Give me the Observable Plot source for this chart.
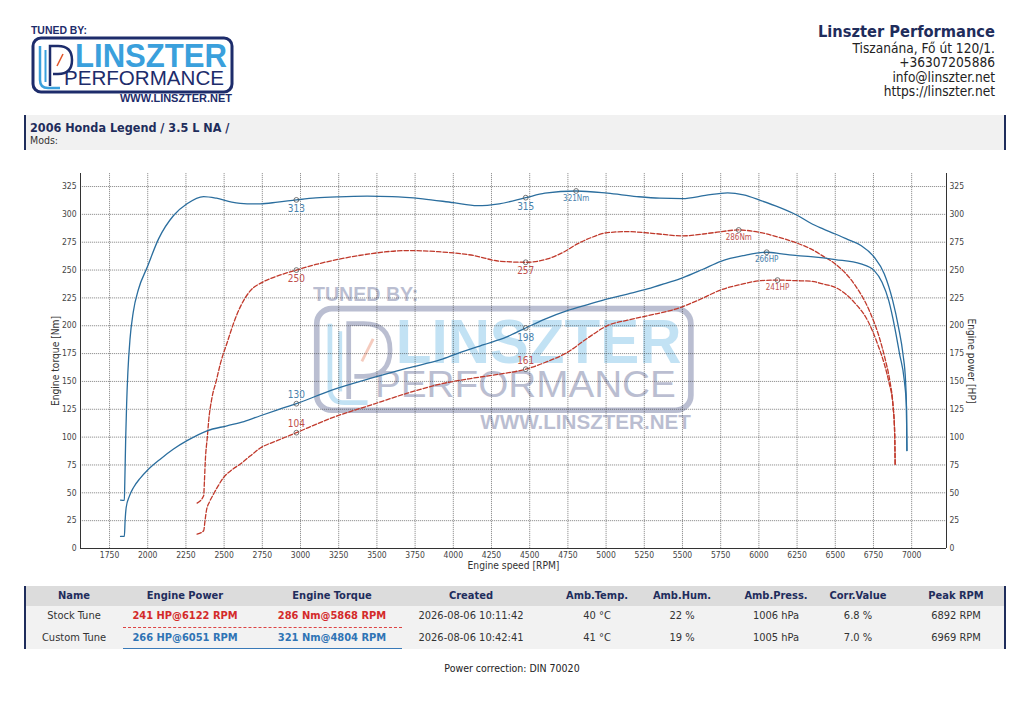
<!DOCTYPE html>
<html><head><meta charset="utf-8">
<script src="https://cdn.jsdelivr.net/npm/d3@7"></script>
<script src="https://cdn.jsdelivr.net/npm/@observablehq/plot@0.6"></script>
<style>
body{margin:0;background:#fff;}
#page{position:relative;width:1024px;height:716px;overflow:hidden;background:#fff;font-family:"DejaVu Sans Condensed","DejaVu Sans",sans-serif;font-stretch:condensed;color:#222;}
#deco{position:absolute;left:0;top:0;z-index:1;}
#chart{position:absolute;left:0;top:160px;z-index:2;}
.a{position:absolute;white-space:nowrap;}
.c{position:absolute;white-space:nowrap;width:200px;text-align:center;font-size:11px;line-height:14px;}
.h{font-weight:bold;color:#1f2d5c;}
</style></head>
<body><div id="page">
<svg id="deco" width="1024" height="716" xmlns="http://www.w3.org/2000/svg">
  <defs>
    <g id="logo">
      <text x="31" y="34" font-family="Liberation Sans" font-weight="bold" font-size="10.5" fill="#1d2c6b" textLength="56" lengthAdjust="spacingAndGlyphs">TUNED BY:</text>
      <rect x="33" y="38" width="199" height="54" rx="8" fill="none" stroke="#1d2c6b" stroke-width="3"/>
      <path d="M40,46 V80 Q40,88 48,88 H60" fill="none" stroke="#3aa0dc" stroke-width="2.5"/>
      <path d="M50,86 V46 H58 Q72,46 72,60 Q72,74 58,74 H53" fill="none" stroke="#1d2c6b" stroke-width="2.5"/>
      <path d="M45.5,82 V50" fill="none" stroke="#3aa0dc" stroke-width="2"/>
      <line x1="57" y1="66" x2="63" y2="54" stroke="#e0562a" stroke-width="1.5"/>
      <text x="75" y="67" font-family="Liberation Sans" font-weight="bold" font-size="33" fill="#3aa0dc" textLength="152" lengthAdjust="spacingAndGlyphs">LINSZTER</text>
      <text x="64" y="85" font-family="Liberation Sans" font-size="20" fill="#1d2c6b" textLength="160" lengthAdjust="spacingAndGlyphs">PERFORMANCE</text>
      <text x="120" y="102" font-family="Liberation Sans" font-weight="bold" font-size="10.5" fill="#1d2c6b" textLength="112" lengthAdjust="spacingAndGlyphs">WWW.LINSZTER.NET</text>
    </g>
  </defs>
  <use href="#logo"/>
  <g opacity="0.3" transform="translate(313,288) scale(1.88) translate(-31,-27)">
    <use href="#logo"/>
  </g>
</svg>

<div class="a" style="right:29px;top:22px;font-size:16.3px;line-height:19px;font-weight:bold;color:#1f2d5c;">Linszter Performance</div>
<div class="a" style="right:29px;top:40.5px;font-size:13.6px;line-height:14.5px;text-align:right;color:#222;">Tiszanána, Fő út 120/1.<br>+36307205886<br>info@linszter.net<br>https://linszter.net</div>

<div class="a" style="left:24px;top:115px;width:978px;height:35px;background:#f1f1f1;border-left:2px solid #1f2d5c;border-right:2px solid #1f2d5c;"></div>
<div class="a" style="left:30px;top:119.5px;font-size:12.5px;line-height:15px;font-weight:bold;color:#1f2d5c;">2006 Honda Legend / 3.5 L NA /</div>
<div class="a" style="left:30px;top:134px;font-size:10.5px;line-height:12px;color:#333;">Mods:</div>

<div id="chart"></div>

<div id="table"></div>
<div class="a" style="left:312px;width:400px;text-align:center;top:661px;font-size:10.5px;line-height:14px;color:#222;">Power correction: DIN 70020</div>
</div>
<script>
// ---- data ----
const xTicks = [1750,2000,2250,2500,2750,3000,3250,3500,3750,4000,4250,4500,4750,5000,5250,5500,5750,6000,6250,6500,6750,7000];
const yTicks = [0,25,50,75,100,125,150,175,200,225,250,275,300,325];

const customTorque = [[1822,43.5],[1847,43.2],[1850,60],[1856,100],[1862,130],[1870,158],[1884,188],[1905,212],[1940,233],[1995,252],[2071,278],[2169,299],[2257,309.5],[2366,316],[2450,314.5],[2550,311],[2650,309.5],[2737,309.5],[2850,311],[2973,313],[3100,314.8],[3250,315.8],[3436,316.3],[3600,316],[3800,314],[4000,310.5],[4157,307.8],[4300,309.5],[4474,315],[4600,319],[4804,321],[5009,319],[5200,316],[5350,314.5],[5500,314.2],[5650,317],[5795,319.3],[5900,317.5],[6013,312.4],[6130,306.5],[6253,299],[6340,292],[6420,287],[6500,282.4],[6580,277.5],[6668,272],[6755,261.5],[6821,246.5],[6876,222.5],[6914,198.6],[6943,174.6],[6960,150.6],[6966,126.7],[6969,88]];
const customPower = [[1822,10.8],[1847,10.8],[1852,25],[1859,36.8],[1880,47],[1907,54.8],[1950,63],[1995,69.8],[2080,80],[2169,89.3],[2257,96.8],[2388,105.7],[2519,110.2],[2630,114],[2737,119.2],[2850,124.5],[2973,130],[3200,142],[3480,153.6],[3700,162],[3917,169.5],[4026,175],[4200,183],[4350,190],[4474,198],[4600,206],[4746,213.6],[4880,219],[5009,224.1],[5140,228.5],[5271,233],[5400,238.5],[5500,243],[5630,250.5],[5751,257.9],[5900,263],[6051,266],[6150,264.5],[6253,263],[6340,262],[6500,259.4],[6668,255.5],[6755,249.5],[6806,239],[6850,222.5],[6889,198.6],[6921,174.6],[6952,150.6],[6966,126.7],[6969,88]];
const stockTorque = [[2323,40.8],[2366,47.3],[2371,60],[2377,79],[2390,100],[2399,114.7],[2420,135],[2449,150.7],[2475,165.7],[2520,185],[2585,210.6],[2672,231.5],[2750,239],[2825,243.5],[2973,250],[3100,255],[3261,260],[3450,264.5],[3698,267.5],[3900,266.5],[4135,263],[4300,258],[4474,257],[4616,260],[4720,266],[4812,273.5],[4900,279],[5009,283.6],[5140,284.5],[5300,283],[5500,280.7],[5700,283.5],[5868,286],[6013,283.6],[6130,279.5],[6253,274],[6340,269],[6420,262.5],[6500,255.5],[6624,237.5],[6723,213.5],[6788,189.6],[6829,168.6],[6857,150.6],[6879,126.7],[6889,102.7],[6892,74.3]];
const stockPower = [[2323,12.9],[2366,15.9],[2375,25],[2384,33.9],[2405,42],[2431,48.9],[2460,56],[2497,63.8],[2550,70.5],[2606,75.8],[2670,83],[2737,90.2],[2850,97],[2973,104],[3200,117],[3480,129.7],[3700,139.5],[3917,147.7],[4135,153.1],[4300,156.5],[4474,161],[4600,167],[4746,176.1],[4880,189],[5009,200.1],[5140,205],[5271,209],[5489,216.5],[5620,224],[5751,232.2],[5880,237],[6013,240.5],[6122,241],[6240,240.5],[6340,240],[6420,237.5],[6500,234.5],[6624,221],[6712,204.6],[6777,183.6],[6821,165.6],[6850,150],[6879,126.7],[6889,102.7],[6892,74.3]];

// marker points [rpm, value, label]
const customTorqueMarks = [[2973,313,"313"],[4474,315,"315"],[4804,321,"321Nm"]];
const customPowerMarks  = [[2973,130,"130"],[4474,198,"198"],[6051,266,"266HP"]];
const stockTorqueMarks  = [[2973,250,"250"],[4474,257,"257"],[5868,286,"286Nm"]];
const stockPowerMarks   = [[2973,104,"104"],[4474,161,"161"],[6122,241,"241HP"]];

// table
const tableHeaders = ["Name","Engine Power","Engine Torque","Created","Amb.Temp.","Amb.Hum.","Amb.Press.","Corr.Value","Peak RPM"];
const stockRow  = ["Stock Tune","241 HP@6122 RPM","286 Nm@5868 RPM","2026-08-06 10:11:42","40 °C","22 %","1006 hPa","6.8 %","6892 RPM"];
const customRow = ["Custom Tune","266 HP@6051 RPM","321 Nm@4804 RPM","2026-08-06 10:42:41","41 °C","19 %","1005 hPa","7.0 %","6969 RPM"];

// ---- chart ----
const BLUE = "#2b6e9e", RED = "#c0392b";
const BLUE_T = "#4a82ad", RED_T = "#c0504d";
const xDom = [1560, 7228], yDom = [0, 336.7];
const gx = d => d[0], gy = d => d[1];
const smallFont = 8, numFont = 10;

function labelMarks(marks, color, dys){
  return marks.map((m,i)=>Plot.text([m], {x:gx, y:gy, text:d=>d[2], dy:dys[i], fill:color,
    fontSize: /[A-Za-z]/.test(m[2]) ? smallFont : numFont, fontFamily:"DejaVu Sans"}));
}

const chart = Plot.plot({
  width: 1024, height: 430,
  marginLeft: 80, marginRight: 78, marginTop: 13, marginBottom: 42,
  style: {fontFamily: "DejaVu Sans", fontSize: "8.5px", background: "transparent", color: "#444"},
  x: {domain: xDom}, y: {domain: yDom},
  marks: [
    Plot.gridX(xTicks, {stroke: "#333", strokeOpacity: 0.65, strokeWidth: 0.8, strokeDasharray: "1.2,0.8"}),
    Plot.gridY(yTicks, {stroke: "#333", strokeOpacity: 0.65, strokeWidth: 0.8, strokeDasharray: "1.2,0.8"}),
    Plot.ruleX([xDom[0], xDom[1]], {stroke: "#333", strokeWidth: 1}),
    Plot.ruleY([0], {stroke: "#333", strokeWidth: 1}),
    Plot.axisX(xTicks, {tickSize: 0, tickPadding: 3, label: null, fill: "#444", tickFormat: d => String(d)}),
    Plot.axisY(yTicks, {anchor: "left", tickSize: 0, tickPadding: 4, label: null, fill: "#444"}),
    Plot.axisY(yTicks, {anchor: "right", tickSize: 0, tickPadding: 3, label: null, fill: "#444"}),
    Plot.text(["Engine speed [RPM]"], {text: d => d, frameAnchor: "bottom", textAnchor: "middle", dy: 20, fontSize: 10.2, fill: "#333"}),
    Plot.text(["Engine torque [Nm]"], {text: d => d, frameAnchor: "left", textAnchor: "middle", dx: -25, rotate: -90, fontSize: 10.2, fill: "#333"}),
    Plot.text(["Engine power [HP]"], {text: d => d, frameAnchor: "right", textAnchor: "middle", dx: 25, rotate: 90, fontSize: 10.2, fill: "#333"}),
    Plot.line(stockTorque, {x: gx, y: gy, stroke: RED, strokeWidth: 1.3, strokeDasharray: "4.5,2", curve: "monotone-x"}),
    Plot.line(stockPower,  {x: gx, y: gy, stroke: RED, strokeWidth: 1.3, strokeDasharray: "4.5,2", curve: "monotone-x"}),
    Plot.line(customTorque, {x: gx, y: gy, stroke: BLUE, strokeWidth: 1.3, curve: "monotone-x"}),
    Plot.line(customPower,  {x: gx, y: gy, stroke: BLUE, strokeWidth: 1.3, curve: "monotone-x"}),
    Plot.dot([...customTorqueMarks, ...customPowerMarks, ...stockTorqueMarks, ...stockPowerMarks],
      {x: gx, y: gy, r: 2.4, stroke: "#555", strokeWidth: 0.8, fill: "none"}),
    ...labelMarks(customTorqueMarks, BLUE_T, [9, 9, 7.5]),
    ...labelMarks(customPowerMarks, BLUE_T, [-8.5, 9.5, 7.5]),
    ...labelMarks(stockTorqueMarks, RED_T, [9, 9, 7.5]),
    ...labelMarks(stockPowerMarks, RED_T, [-8.5, -8.5, 7.5])
  ]
});
document.getElementById("chart").appendChild(chart);

// ---- table ----
const colX = [74,185,332,471,597,682,776,858,956];
const tbl = document.getElementById("table");
let html = '<div class="a" style="left:24px;top:586px;width:978px;height:20px;background:#dcdcdc;border-left:2px solid #1f2d5c;border-right:2px solid #1f2d5c;"></div>';
html += '<div class="a" style="left:24px;top:606px;width:978px;height:43px;background:#f2f2f2;border-left:2px solid #1f2d5c;border-right:2px solid #1f2d5c;"></div>';
tableHeaders.forEach((t,i)=>{ html += `<div class="c h" style="left:${colX[i]-100}px;top:589px;">${t}</div>`; });
stockRow.forEach((t,i)=>{ const col = (i===1||i===2) ? "color:#d42a2a;font-weight:bold;" : "color:#333;";
  html += `<div class="c" style="left:${colX[i]-100}px;top:609px;${col}">${t}</div>`; });
customRow.forEach((t,i)=>{ const col = (i===1||i===2) ? "color:#2f74b5;font-weight:bold;" : "color:#333;";
  html += `<div class="c" style="left:${colX[i]-100}px;top:631px;${col}">${t}</div>`; });
html += '<div class="a" style="left:123px;top:627px;width:279px;height:0;border-top:1px dashed #d44;"></div>';
html += '<div class="a" style="left:123px;top:648px;width:279px;height:0;border-top:1.5px solid #3a7ab8;"></div>';
tbl.innerHTML = html;
</script>
</body></html>
